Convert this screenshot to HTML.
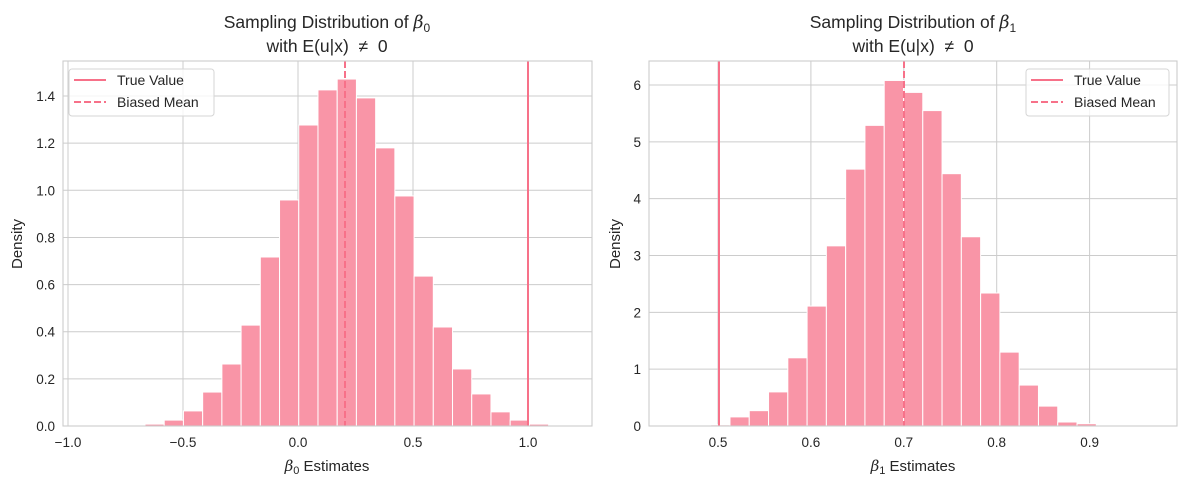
<!DOCTYPE html>
<html><head><meta charset="utf-8"><style>
html,body{margin:0;padding:0;background:#fff;}
svg{display:block;font-family:"Liberation Sans","DejaVu Sans",sans-serif;}
text{fill:#262626;}
</style></head><body>
<svg id="s" width="1187" height="487" viewBox="0 0 1187 487" xmlns="http://www.w3.org/2000/svg">
<g id="g"></g>
<text x="327" y="28" font-size="17.5" text-anchor="middle">Sampling Distribution of <tspan font-style="italic" font-family="DejaVu Serif, serif">β</tspan><tspan font-size="12" dy="4">0</tspan></text>
<text x="327" y="52" font-size="17.5" text-anchor="middle" xml:space="preserve">with E(u|x)  ≠  0</text>
<text x="913" y="28" font-size="17.5" text-anchor="middle">Sampling Distribution of <tspan font-style="italic" font-family="DejaVu Serif, serif">β</tspan><tspan font-size="12" dy="4">1</tspan></text>
<text x="913" y="52" font-size="17.5" text-anchor="middle" xml:space="preserve">with E(u|x)  ≠  0</text>
<text x="327" y="471" font-size="15" text-anchor="middle"><tspan font-style="italic" font-family="DejaVu Serif, serif">β</tspan><tspan font-size="11" dy="3">0</tspan><tspan dy="-3"> Estimates</tspan></text>
<text x="913" y="471" font-size="15" text-anchor="middle"><tspan font-style="italic" font-family="DejaVu Serif, serif">β</tspan><tspan font-size="11" dy="3">1</tspan><tspan dy="-3"> Estimates</tspan></text>
<text transform="translate(22,244) rotate(-90)" font-size="15" text-anchor="middle">Density</text>
<text transform="translate(620,244) rotate(-90)" font-size="15" text-anchor="middle">Density</text>
</svg>
<script>
const NS="http://www.w3.org/2000/svg";const g=document.getElementById('g');
function el(t,a,txt){const e=document.createElementNS(NS,t);for(const k in a)e.setAttribute(k,a[k]);if(txt!==undefined)e.textContent=txt;g.appendChild(e);return e;}
const bar="rgb(249,149,167)",line="#f77189";
function panel(o){
 const L=o.L,R=o.R,T=61,B=426;
 o.xt.forEach(t=>{const x=o.fx(t.v);el('line',{x1:x,x2:x,y1:T,y2:B,stroke:'#cccccc','stroke-width':1});el('text',{x:x,y:447,'font-size':13.5,'text-anchor':'middle'},t.s);});
 o.yt.forEach(t=>{const y=o.fy(t.v);el('line',{x1:L,x2:R,y1:y,y2:y,stroke:'#cccccc','stroke-width':1});el('text',{x:L-8,y:y+5,'font-size':13.5,'text-anchor':'end'},t.s);});
 o.h.forEach((v,i)=>{const x=o.x0+i*o.w;const y=o.fy(v);el('rect',{x:x,y:y,width:o.w,height:B-y,fill:bar,stroke:'#fff','stroke-width':1});});
 el('line',{x1:o.tv,x2:o.tv,y1:T,y2:B,stroke:line,'stroke-width':2});
 el('line',{x1:o.mv,x2:o.mv,y1:T,y2:B,stroke:line,'stroke-width':2,'stroke-dasharray':'7,3'});
 el('rect',{x:L,y:T,width:R-L,height:B-T,fill:'none',stroke:'#cccccc','stroke-width':1.1});
 const lx=o.lx,ly=69;
 el('rect',{x:lx,y:ly,width:o.lw,height:47,rx:3,fill:'rgba(255,255,255,0.8)',stroke:'#d6d6d6','stroke-width':1});
 el('line',{x1:lx+5,x2:lx+37,y1:ly+11,y2:ly+11,stroke:line,'stroke-width':2});
 el('line',{x1:lx+5,x2:lx+37,y1:ly+33,y2:ly+33,stroke:line,'stroke-width':2,'stroke-dasharray':'7,3'});
 el('text',{x:lx+48,y:ly+16,'font-size':14},'True Value');
 el('text',{x:lx+48,y:ly+38,'font-size':14},'Biased Mean');
}
const fy0=v=>426-v*235.7;
panel({L:63,R:592,fx:v=>298+v*230,fy:fy0,
 xt:[{v:-1,s:'−1.0'},{v:-0.5,s:'−0.5'},{v:0,s:'0.0'},{v:0.5,s:'0.5'},{v:1,s:'1.0'}],
 yt:[0,0.2,0.4,0.6,0.8,1.0,1.2,1.4].map(v=>({v:v,s:v.toFixed(1)})),
 x0:145,w:19.22,
 h:[0.008,0.025,0.064,0.144,0.263,0.428,0.717,0.959,1.277,1.426,1.472,1.392,1.18,0.976,0.636,0.42,0.242,0.136,0.06,0.025,0.008],
 tv:528,mv:345,lx:69,lw:145});
panel({L:649,R:1177,fx:v=>718+(v-0.5)*929,fy:v=>426-v*56.83,
 xt:[{v:0.5,s:'0.5'},{v:0.6,s:'0.6'},{v:0.7,s:'0.7'},{v:0.8,s:'0.8'},{v:0.9,s:'0.9'}],
 yt:[0,1,2,3,4,5,6].map(v=>({v:v,s:String(v)})),
 x0:710.7,w:19.28,
 h:[0.02,0.16,0.27,0.6,1.2,2.11,3.17,4.52,5.29,6.08,5.87,5.55,4.44,3.33,2.34,1.3,0.72,0.35,0.07,0.04],
 tv:719,mv:904,lx:1026,lw:143});
</script>
</body></html>
